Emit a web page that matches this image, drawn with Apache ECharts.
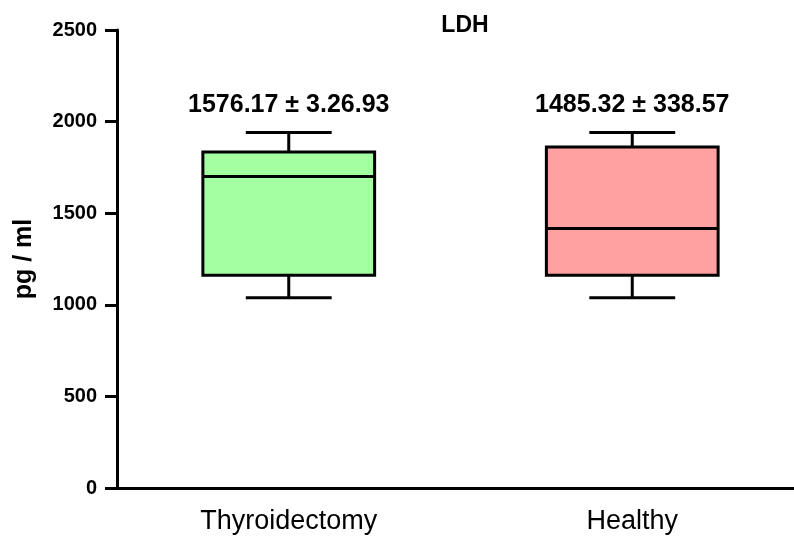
<!DOCTYPE html>
<html>
<head>
<meta charset="utf-8">
<script src="https://cdn.jsdelivr.net/npm/echarts@6/dist/echarts.min.js"></script>
<style>
  html, body { margin: 0; padding: 0; background: #fff; }
  #chart { width: 794px; height: 538px; }
</style>
</head>
<body>
<div id="chart"></div>
<script>
// data
var groups = ['Thyroidectomy', 'Healthy']
var mins = [1039, 1039]
var q1s = [1161, 1161]
var medians = [1701, 1416]
var q3s = [1834, 1861]
var maxs = [1940, 1940]
var meanLabels = ['1576.17 \u00b1 3.26.93', '1485.32 \u00b1 338.57']
var fills = ['#a3ff9f', '#ffa1a1']
var yTicks = [0, 500, 1000, 1500, 2000, 2500]

var boxData = groups.map(function (g, i) {
  return [i, mins[i], q1s[i], medians[i], q3s[i], maxs[i]]
})

var font = '"Liberation Sans", Arial, sans-serif'
var chart = echarts.init(document.getElementById('chart'))

function renderBox(params, api) {
  var i = api.value(0)
  var lo = api.coord([i, api.value(1)])
  var q1 = api.coord([i, api.value(2)])
  var med = api.coord([i, api.value(3)])
  var q3 = api.coord([i, api.value(4)])
  var hi = api.coord([i, api.value(5)])
  var band = api.size([1, 0])[0]
  var half = band * 0.25
  var cap = band * 0.125
  var x = lo[0]
  var line = { stroke: '#000', lineWidth: 3 }
  return {
    type: 'group',
    children: [
      { type: 'line', shape: { x1: x, y1: hi[1], x2: x, y2: q3[1] }, style: line },
      { type: 'line', shape: { x1: x, y1: q1[1], x2: x, y2: lo[1] }, style: line },
      { type: 'line', shape: { x1: x - cap, y1: hi[1], x2: x + cap, y2: hi[1] }, style: line },
      { type: 'line', shape: { x1: x - cap, y1: lo[1], x2: x + cap, y2: lo[1] }, style: line },
      {
        type: 'rect',
        shape: { x: x - half, y: q3[1], width: half * 2, height: q1[1] - q3[1] },
        style: { fill: fills[i], stroke: '#000', lineWidth: 3 }
      },
      { type: 'line', shape: { x1: x - half, y1: med[1], x2: x + half, y2: med[1] }, style: line },
      {
        type: 'text',
        style: {
          text: meanLabels[i],
          x: x,
          y: hi[1] - 27,
          align: 'center',
          verticalAlign: 'middle',
          fontSize: 25,
          fontWeight: 'bold',
          fontFamily: font,
          fill: '#000'
        }
      }
    ]
  }
}

chart.setOption({
  animation: false,
  title: {
    text: 'LDH',
    left: 460,
    top: 9,
    textAlign: 'center',
    textStyle: { fontSize: 23, fontWeight: 'bold', fontFamily: font, color: '#000' }
  },
  grid: { left: 117, top: 30, bottom: 50, width: 687, outerBoundsMode: 'none' },
  xAxis: {
    type: 'category',
    data: groups,
    axisLine: { lineStyle: { color: '#000', width: 3 } },
    axisTick: { alignWithLabel: true, length: 12, lineStyle: { color: '#000', width: 3 } },
    axisLabel: { color: '#000', fontSize: 27, fontFamily: font, margin: 20 },
    splitLine: { show: false }
  },
  yAxis: {
    type: 'value',
    min: 0,
    max: 2500,
    interval: 500,
    name: 'pg / ml',
    nameLocation: 'middle',
    nameGap: 80,
    nameTextStyle: { color: '#000', fontSize: 25, fontWeight: 'bold', fontFamily: font },
    axisLine: { show: true, lineStyle: { color: '#000', width: 3 } },
    axisTick: { show: true, length: 12, lineStyle: { color: '#000', width: 3 } },
    axisLabel: {
      color: '#000', fontSize: 20, fontWeight: 'bold', fontFamily: font, margin: 20,
      formatter: function (v) { return yTicks.indexOf(v) >= 0 ? String(v) : '' }
    },
    splitLine: { show: false }
  },
  series: [{
    type: 'custom',
    renderItem: renderBox,
    encode: { x: 0, y: [1, 2, 3, 4, 5] },
    data: boxData
  }]
})
</script>
</body>
</html>
